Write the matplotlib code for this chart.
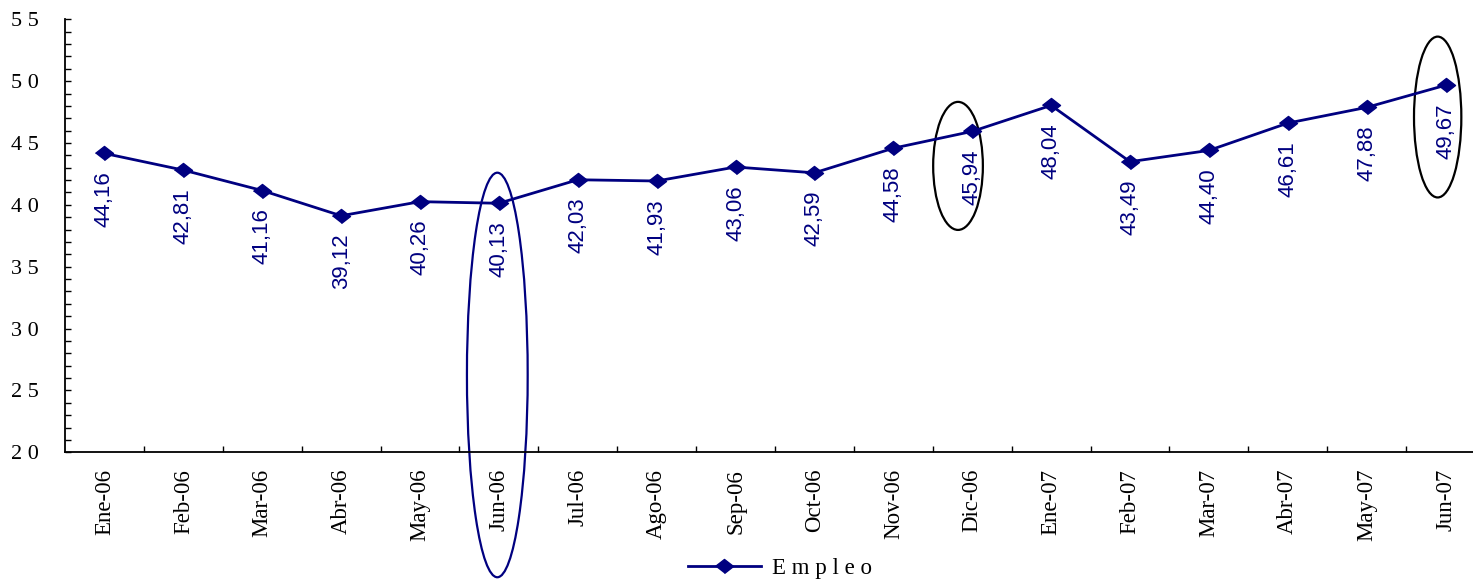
import matplotlib.pyplot as plt
from matplotlib.patches import Ellipse
from matplotlib.ticker import MultipleLocator, FixedLocator

meses = ['Ene-06', 'Feb-06', 'Mar-06', 'Abr-06', 'May-06', 'Jun-06', 'Jul-06', 'Ago-06', 'Sep-06',
         'Oct-06', 'Nov-06', 'Dic-06', 'Ene-07', 'Feb-07', 'Mar-07', 'Abr-07', 'May-07', 'Jun-07']
empleo = [44.16, 42.81, 41.16, 39.12, 40.26, 40.13, 42.03, 41.93, 43.06,
          42.59, 44.58, 45.94, 48.04, 43.49, 44.40, 46.61, 47.88, 49.67]
y_ticks = [20, 25, 30, 35, 40, 45, 50, 55]

# circled months: (index, x offset, center y, width, height, color)
circulos = [(5, -0.02, 26.25, 0.77, 32.7, '#000080'),
            (11, -0.18, 43.15, 0.63, 10.35, 'black'),
            (17, -0.10, 47.10, 0.60, 13.0, 'black')]

navy = '#000080'
serif = ['Liberation Serif', 'DejaVu Serif']
sans = ['Liberation Sans', 'DejaVu Sans']

fig = plt.figure(figsize=(14.73, 5.81), dpi=100)
ax = fig.add_axes([65 / 1473, 1 - 452.3 / 581, 1420 / 1473, 433 / 581])

x = list(range(len(meses)))
ax.plot(x, empleo, color=navy, lw=2, marker=[(-1, 0), (0, 0.78), (1, 0), (0, -0.78)],
        markersize=13, markerfacecolor=navy, markeredgecolor=navy, label='E m p l e o',
        clip_on=False)

for i, v in zip(x, empleo):
    ax.annotate(f'{v:.2f}'.replace('.', ','), (i, v), xytext=(0, -13), textcoords='offset points',
                rotation=90, ha='center', va='top', color=navy, fontsize=16, family=sans)

for idx, dx, cy, w, h, c in circulos:
    ax.add_patch(Ellipse((idx + dx, cy), w, h, fill=False, edgecolor=c, lw=1.6, clip_on=False))

ax.set_xlim(-0.5, len(meses) - 0.5)
ax.set_ylim(20, 55)
ax.spines['top'].set_visible(False)
ax.spines['right'].set_visible(False)
ax.spines['left'].set_linewidth(1.3)
ax.spines['bottom'].set_linewidth(1.3)

ax.set_xticks(x)
ax.set_xticklabels(meses, rotation=90, fontsize=16.5, family=serif)
ax.xaxis.set_minor_locator(FixedLocator([i + 0.5 for i in x[:-1]]))
ax.tick_params(axis='x', which='major', length=0, pad=12)
ax.tick_params(axis='x', which='minor', direction='in', length=4.5, width=1)

ax.set_yticks(y_ticks)
ax.set_yticklabels([' '.join(str(t)) for t in y_ticks], fontsize=16, family=serif)
ax.yaxis.set_minor_locator(MultipleLocator(1))
ax.tick_params(axis='y', which='both', direction='in', length=4.5, width=1, pad=19)

ax.legend(loc='center', bbox_to_anchor=(780 / 1473, 1 - 568 / 581), bbox_transform=fig.transFigure,
          frameon=False, prop={'family': serif, 'size': 16.5}, handlelength=3.2, handletextpad=0.5)

plt.savefig('out.png', dpi=100)
